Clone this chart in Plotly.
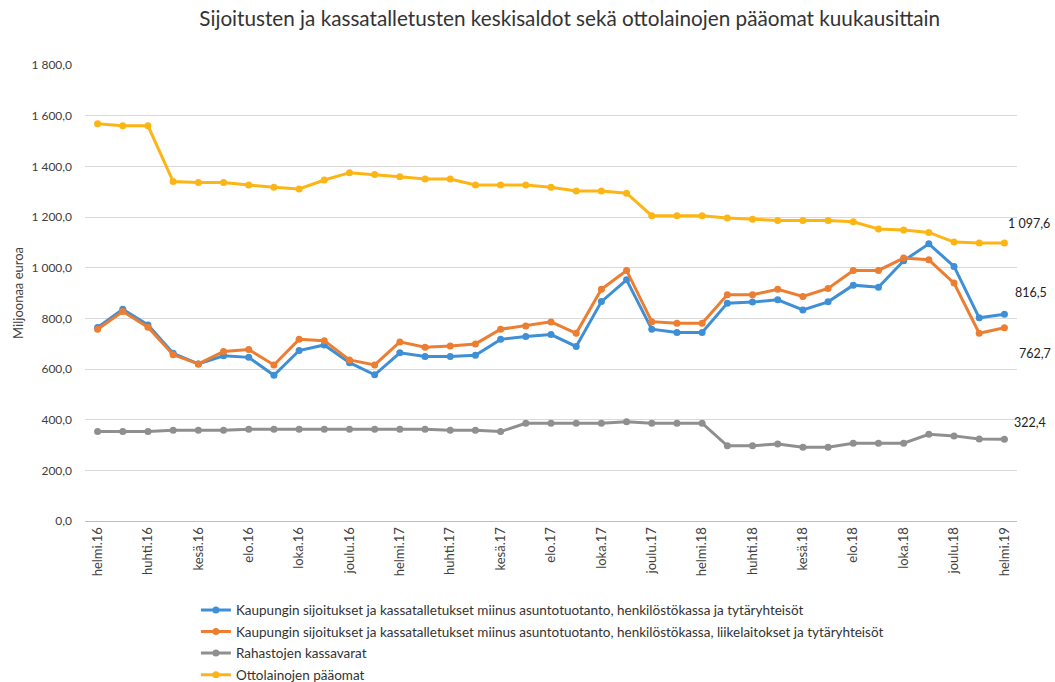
import plotly.graph_objects as go

months = ["tammi", "helmi", "maalis", "huhti", "touko", "kesä", "heinä", "elo", "syys", "loka", "marras", "joulu"]
categories = []
for i in range(37):
    m = (1 + i) % 12
    yr = 16 + (1 + i) // 12
    categories.append(f"{months[m]}.{yr}")

blue = [764, 836, 774, 662, 620, 652, 646, 575, 673, 695, 625, 577, 664,
        649, 649, 654, 717, 728, 736, 689, 866, 952, 757, 744, 744, 860,
        864, 873, 833, 865, 931, 923, 1027, 1094, 1005, 802, 816.5]
orange = [757, 827, 765, 656, 620, 669, 677, 616, 717, 712, 636, 616, 707,
          686, 691, 699, 757, 770, 786, 741, 915, 989, 787, 781, 781, 893,
          893, 915, 886, 918, 989, 989, 1038, 1031, 939, 741, 762.7]
gray = [353, 353, 353, 358, 358, 358, 362, 362, 362, 362, 362, 362, 362,
        362, 358, 358, 353, 386, 386, 386, 386, 392, 386, 386, 386, 297,
        297, 304, 291, 291, 307, 307, 307, 342, 336, 324, 322.4]
yellow = [1568, 1560, 1560, 1340, 1336, 1336, 1326, 1317, 1311, 1346, 1375, 1368, 1359,
          1350, 1350, 1326, 1326, 1326, 1317, 1303, 1303, 1294, 1205, 1205, 1205, 1196,
          1191, 1186, 1186, 1186, 1181, 1153, 1149, 1139, 1101, 1097, 1097.6]

names = [
    "Kaupungin sijoitukset ja kassatalletukset miinus asuntotuotanto, henkilöstökassa ja tytäryhteisöt",
    "Kaupungin sijoitukset ja kassatalletukset miinus asuntotuotanto, henkilöstökassa, liikelaitokset ja tytäryhteisöt",
    "Rahastojen kassavarat",
    "Ottolainojen pääomat",
]
series = [blue, orange, gray, yellow]
colors = ["#3f8fd6", "#ed7d31", "#8f8f8f", "#fdb515"]

end_labels = ["816,5", "762,7", "322,4", "1 097,6"]
label_shift = [22, -26, 17, 19]
label_xshift = [9, 13, 8, 2]

yticks = [0, 200, 400, 600, 800, 1000, 1200, 1400, 1600, 1800]
xtickvals = categories[::2]

font = "Lato, 'Open Sans', sans-serif"

fig = go.Figure()
for i, (name, vals, col) in enumerate(zip(names, series, colors)):
    fig.add_trace(go.Scatter(
        x=categories, y=vals, name=name, mode="lines+markers",
        legendgroup=f"g{i}",
        line=dict(color=col, width=3),
        marker=dict(color=col, size=7),
    ))

for vals, lab, sh, xs in zip(series, end_labels, label_shift, label_xshift):
    fig.add_annotation(x=categories[-1], y=vals[-1], text=lab, showarrow=False,
                       xanchor="left", xshift=xs, yshift=sh,
                       font=dict(size=12.5, color="#222222", family=font))

fig.add_annotation(text="Miljoonaa euroa", xref="paper", yref="paper", x=-0.072, y=0.5,
                   xanchor="center", yanchor="middle", textangle=-90, showarrow=False,
                   font=dict(size=13, color="#404040", family=font))

fig.update_layout(
    width=1055, height=682,
    separators=", ",
    paper_bgcolor="white", plot_bgcolor="white",
    font=dict(family=font, color="#404040"),
    title=dict(text="Sijoitusten ja kassatalletusten keskisaldot sekä ottolainojen pääomat kuukausittain",
               x=0.540, xanchor="center", xref="container", y=0.973, yanchor="middle", yref="container",
               font=dict(size=20.7, color="#333333", family=font)),
    margin=dict(l=85, r=38, t=65, b=161),
    showlegend=True,
    legend=dict(orientation="v", x=0.119, xanchor="left", y=0.128, yanchor="top", yref="container",
                font=dict(size=13.5, color="#333333", family=font),
                tracegroupgap=1, itemwidth=30, bgcolor="rgba(0,0,0,0)"),
    xaxis=dict(type="category", categoryorder="array", categoryarray=categories,
               range=[-0.5, 36.5], tickmode="array", tickvals=xtickvals, ticktext=xtickvals,
               tickangle=-90, tickfont=dict(size=13, color="#404040"),
               showgrid=False, showline=True, linecolor="#bfbfbf", linewidth=1,
               ticks="", zeroline=False, automargin=False),
    yaxis=dict(range=[0, 1800], tickmode="array", tickvals=yticks, tickformat=",.1f",
               tickfont=dict(size=12, color="#404040"),
               showgrid=True, gridcolor="#d9d9d9", gridwidth=1, zeroline=False,
               showline=False, ticks="", ticklabelstandoff=12, automargin=False),
)

fig.write_html(
    "out.html",
    config={"displayModeBar": False},
    post_script="document.documentElement.style.margin='0';document.body.style.margin='0';"
                "document.body.style.overflow='hidden';",
)
